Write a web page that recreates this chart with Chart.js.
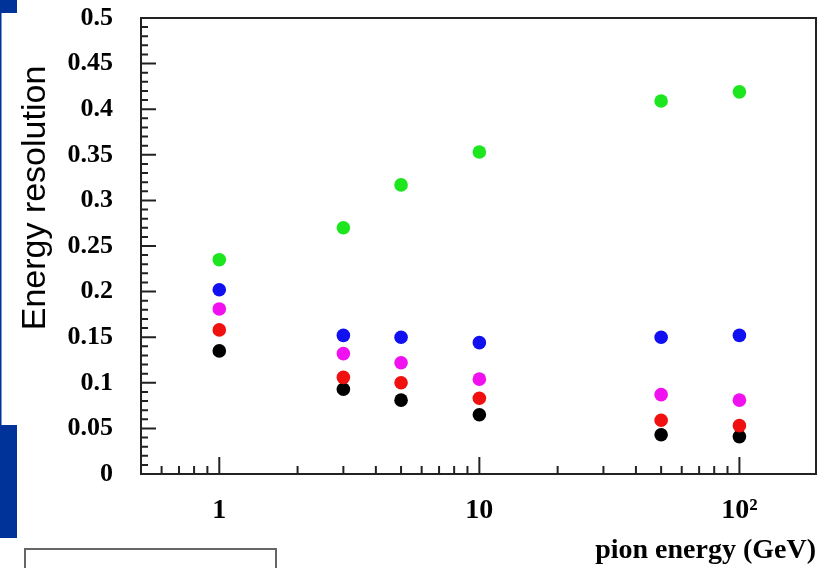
<!DOCTYPE html>
<html>
<head>
<meta charset="utf-8">
<script src="https://cdn.jsdelivr.net/npm/chart.js@4"></script>
<style>
  html, body { margin: 0; padding: 0; background: #fff; }
  #graphic1 { display: block; }
</style>
</head>
<body>
<canvas id="graphic1" width="830" height="568"></canvas>
<script>
// pion energy (GeV) and energy resolution per series
const energies = [1, 3, 5, 10, 50, 100];
const greenRes = [0.235, 0.270, 0.317, 0.353, 0.409, 0.419];
const blueRes = [0.202, 0.152, 0.150, 0.144, 0.150, 0.152];
const magentaRes = [0.181, 0.132, 0.122, 0.104, 0.087, 0.081];
const redRes = [0.158, 0.106, 0.100, 0.083, 0.059, 0.053];
const blackRes = [0.135, 0.093, 0.081, 0.065, 0.043, 0.041];

const xLabels = { 1: '1', 10: '10', 100: '10²' };

const canvas = document.querySelector('#graphic1');
const ctx = canvas.getContext('2d');

function points(ys) {
  return energies.map((e, i) => ({ x: e, y: ys[i] }));
}

function series(label, ys, color) {
  return {
    label: label,
    data: points(ys),
    backgroundColor: color,
    borderColor: color,
    borderWidth: 0,
    pointRadius: 6.8,
    pointHoverRadius: 6.8
  };
}

// slide decoration, frame, inward tick marks, y title
const decor = {
  id: 'decor',
  beforeDraw(chart) {
    const c = chart.ctx;
    c.save();
    c.fillStyle = '#fff';
    c.fillRect(0, 0, chart.width, chart.height);
    c.fillStyle = '#003399';
    c.fillRect(0, 0, 17, 13);
    c.fillRect(0, 13, 1.5, 412);
    c.fillRect(0, 425, 17, 113);
    c.strokeStyle = '#666';
    c.lineWidth = 2;
    c.strokeRect(25, 549, 251, 30);
    c.restore();
  },
  beforeDatasetsDraw(chart) {
    const c = chart.ctx;
    const a = chart.chartArea;
    const x = chart.scales.x;
    const y = chart.scales.y;
    c.save();
    c.strokeStyle = '#222';
    c.lineWidth = 2;
    c.beginPath();
    x.ticks.forEach(t => {
      const v = t.value;
      const m = v / Math.pow(10, Math.floor(Math.log10(v) + 1e-9));
      if (Math.abs(m - Math.round(m)) > 1e-6) return;
      const px = x.getPixelForValue(v);
      if (px < a.left + 3 || px > a.right - 3) return;
      const len = Math.abs(m - 1) < 1e-6 ? 17 : 8;
      c.moveTo(px, a.bottom);
      c.lineTo(px, a.bottom - len);
    });
    y.ticks.forEach(t => {
      const py = y.getPixelForValue(t.value);
      const major = Math.round(t.value * 100) % 5 === 0;
      c.moveTo(a.left, py);
      c.lineTo(a.left + (major ? 15 : 7), py);
    });
    c.stroke();
    c.strokeRect(a.left, a.top, a.right - a.left, a.bottom - a.top);
    // y axis title
    c.translate(36, 198);
    c.rotate(-Math.PI / 2);
    c.fillStyle = '#000';
    c.font = '34px "Liberation Sans", Arial, sans-serif';
    c.textAlign = 'center';
    c.textBaseline = 'middle';
    c.fillText('Energy resolution', 0, 0);
    c.restore();
  }
};

const myChart = new Chart(ctx, {
  type: 'scatter',
  data: {
    datasets: [
      series('green', greenRes, '#1ee61e'),
      series('blue', blueRes, '#1010f0'),
      series('magenta', magentaRes, '#f010f0'),
      series('red', redRes, '#f01010'),
      series('black', blackRes, '#000000')
    ]
  },
  options: {
    responsive: false,
    animation: false,
    devicePixelRatio: 1,
    layout: { padding: { top: 18, right: 14, left: 0, bottom: 0 } },
    plugins: { legend: { display: false }, tooltip: { enabled: false } },
    scales: {
      x: {
        type: 'logarithmic',
        min: 0.5,
        max: 197,
        afterFit: (s) => { s.height = 94; s.paddingLeft = 0; s.paddingRight = 0; },
        grid: { display: false, drawTicks: false },
        border: { display: false },
        ticks: {
          autoSkip: false,
          maxRotation: 0,
          padding: 20,
          color: '#000',
          font: { family: '"Liberation Serif", "Times New Roman", serif', size: 28, weight: 'bold' },
          callback: (v) => {
            for (const k in xLabels) {
              if (Math.abs(v - Number(k)) < 1e-6) return xLabels[k];
            }
            return '';
          }
        },
        title: {
          display: true,
          text: 'pion energy (GeV)',
          align: 'end',
          color: '#000',
          padding: 0,
          font: { family: '"Liberation Serif", "Times New Roman", serif', size: 28, weight: 'bold' }
        }
      },
      y: {
        min: 0,
        max: 0.5,
        afterFit: (s) => { s.width = 141; s.paddingTop = 0; s.paddingBottom = 0; },
        grid: { display: false, drawTicks: false },
        border: { display: false },
        ticks: {
          stepSize: 0.01,
          autoSkip: false,
          padding: 28,
          color: '#000',
          font: { family: '"Liberation Serif", "Times New Roman", serif', size: 26, weight: 'bold' },
          callback: (v) => {
            const h = Math.round(v * 100);
            return h % 5 === 0 ? String(h / 100) : '';
          }
        }
      }
    }
  },
  plugins: [decor]
});
</script>
</body>
</html>
